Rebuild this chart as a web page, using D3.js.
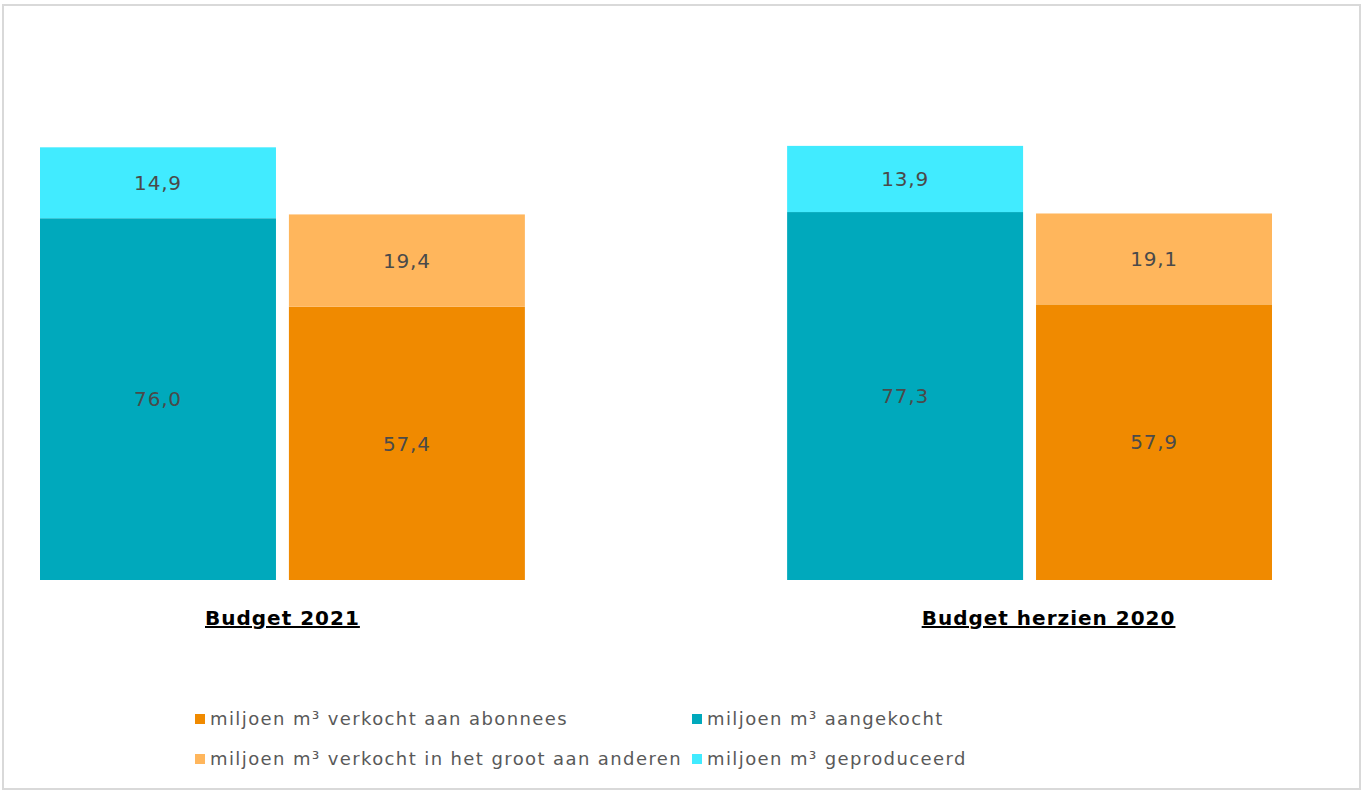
<!DOCTYPE html>
<html>
<head>
<meta charset="utf-8">
<script src="https://cdn.jsdelivr.net/npm/d3@7"></script>
<style>
  html, body { margin: 0; padding: 0; background: #fff; }
  svg { display: block; }
</style>
</head>
<body>
<svg id="chart" width="1363" height="793"></svg>
<script>
const groups = ["Budget 2021", "Budget herzien 2020"];
const stacksPerGroup = ["in", "uit"];
// stack "in": aangekocht + geproduceerd; stack "uit": verkocht aan abonnees + verkocht in het groot
const aangekocht   = [76.0, 77.3];
const geproduceerd = [14.9, 13.9];
const verkochtAbonnees = [57.4, 57.9];
const verkochtGroot    = [19.4, 19.1];

const seriesNames = {
  abonnees: "miljoen m\u00B3 verkocht aan abonnees",
  aangekocht: "miljoen m\u00B3 aangekocht",
  groot: "miljoen m\u00B3 verkocht in het groot aan anderen",
  geproduceerd: "miljoen m\u00B3 geproduceerd"
};
const colors = {
  aangekocht: "#00A9BC",
  geproduceerd: "#41EBFF",
  abonnees: "#F08A00",
  groot: "#FFB65C"
};

const svg = d3.select("#chart");
const W = 1363, H = 793;

// border
svg.append("rect").attr("x", 3).attr("y", 5).attr("width", W - 6).attr("height", H - 9)
  .attr("fill", "#fff").attr("stroke", "#d9d9d9").attr("stroke-width", 2);

const x0 = d3.scaleBand().domain(groups).range([40, 1272]).paddingInner(0.351).paddingOuter(0);
const x1 = d3.scaleBand().domain(stacksPerGroup).range([0, x0.bandwidth()]).paddingInner(0.052);
const y = d3.scaleLinear().domain([0, 100]).range([580, 104]);

const rows = groups.map((g, i) => ({
  group: g,
  stacks: {
    in: [{key: "aangekocht", v: aangekocht[i]}, {key: "geproduceerd", v: geproduceerd[i]}],
    uit: [{key: "abonnees", v: verkochtAbonnees[i]}, {key: "groot", v: verkochtGroot[i]}]
  }
}));

const fmt = v => d3.format(".1f")(v).replace(".", ",");
const titleShift = [0, 19];

rows.forEach((r, i) => {
  const g = svg.append("g").attr("transform", `translate(${x0(r.group)},0)`);
  stacksPerGroup.forEach(s => {
    const keys = r.stacks[s].map(d => d.key);
    const obj = {};
    r.stacks[s].forEach(d => obj[d.key] = d.v);
    const st = d3.stack().keys(keys)([obj]);
    st.forEach(layer => {
      const seg = layer[0];
      g.append("rect")
        .attr("x", x1(s))
        .attr("y", y(seg[1]))
        .attr("width", x1.bandwidth())
        .attr("height", y(seg[0]) - y(seg[1]))
        .attr("fill", colors[layer.key]);
      g.append("text")
        .attr("x", x1(s) + x1.bandwidth() / 2)
        .attr("y", (y(seg[0]) + y(seg[1])) / 2)
        .attr("dy", "0.36em")
        .attr("text-anchor", "middle")
        .attr("font-family", "DejaVu Sans, sans-serif")
        .attr("font-size", 20)
        .attr("letter-spacing", "0.8px")
        .attr("fill", "#4a4a4a")
        .text(fmt(seg[1] - seg[0]));
    });
  });
  g.append("text")
    .attr("x", x0.bandwidth() / 2 + titleShift[i])
    .attr("y", 625)
    .attr("text-anchor", "middle")
    .attr("font-family", "DejaVu Sans, sans-serif")
    .attr("font-weight", "bold")
    .attr("font-size", 20)
    .attr("letter-spacing", "1px")
    .attr("text-decoration", "underline")
    .attr("fill", "#000")
    .text(r.group);
});

// legend
const legendItems = [
  {key: "abonnees", col: 0, row: 0},
  {key: "aangekocht", col: 1, row: 0},
  {key: "groot", col: 0, row: 1},
  {key: "geproduceerd", col: 1, row: 1}
];
const colX = [195, 692];
const rowY = [719, 759];
const lg = svg.append("g");
legendItems.forEach(it => {
  const gx = colX[it.col], gy = rowY[it.row];
  lg.append("rect").attr("x", gx).attr("y", gy - 5).attr("width", 10).attr("height", 10)
    .attr("fill", colors[it.key]);
  lg.append("text").attr("x", gx + 15).attr("y", gy).attr("dy", "0.35em")
    .attr("font-family", "DejaVu Sans, sans-serif")
    .attr("font-size", 18)
    .attr("letter-spacing", "1.4px")
    .attr("fill", "#595959")
    .text(seriesNames[it.key]);
});
</script>
</body>
</html>
